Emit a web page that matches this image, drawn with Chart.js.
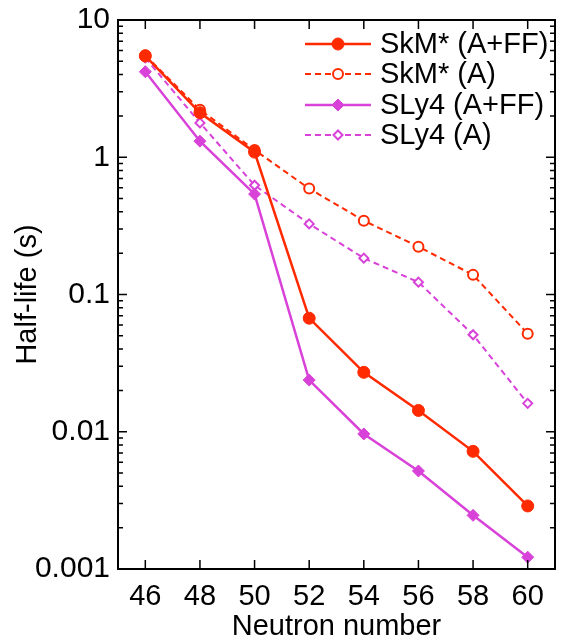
<!DOCTYPE html>
<html>
<head>
<meta charset="utf-8">
<script src="https://cdn.jsdelivr.net/npm/chart.js@4.4.0/dist/chart.umd.min.js"></script>
<style>
  html, body { margin: 0; padding: 0; background: #fff; }
  #wrap { width: 562px; height: 641px; }
</style>
</head>
<body>
<div id="wrap"><canvas id="c"></canvas></div>
<script>
// neutron numbers and half-lives (s)
const neutrons = [46, 48, 50, 52, 54, 56, 58, 60];
const skmFull = [5.47, 2.11, 1.09, 0.0672, 0.0271, 0.0143, 0.0072, 0.00288];
const skmA = [5.53, 2.22, 1.13, 0.591, 0.345, 0.223, 0.139, 0.0518];
const slyFull = [4.2, 1.31, 0.539, 0.0238, 0.00964, 0.00518, 0.00246, 0.00122];
const slyA = [5.3, 1.78, 0.625, 0.327, 0.184, 0.123, 0.0509, 0.0161];

const xTicks = [46, 48, 50, 52, 54, 56, 58, 60];
const yTicks = [0.001, 0.01, 0.1, 1, 10];
const yTickLabels = ['0.001', '0.01', '0.1', '1', '10'];

const RED = '#ff2a00';
const MAG = '#d842d8';
const FONT = "'Liberation Sans', Arial, Helvetica, sans-serif";

function serie(label, values, color, dashed, style, radius, open) {
    return {
        label: label,
        data: neutrons.map((n, i) => ({ x: n, y: values[i] })),
        borderColor: color,
        borderWidth: dashed ? 2 : 2.5,
        borderDash: dashed ? [6, 4] : [],
        pointStyle: style,
        pointRadius: radius,
        pointBorderWidth: open ? 2 : 1,
        pointBorderColor: color,
        pointBackgroundColor: open ? '#fff' : color,
        fill: false,
        tension: 0
    };
}

// marco con marcas hacia dentro + leyenda dentro del area
const framePlugin = {
    id: 'frame',
    afterDraw(chart) {
        const ctx = chart.ctx;
        const a = chart.chartArea;
        const xs = chart.scales.x, ys = chart.scales.y;
        ctx.save();
        ctx.strokeStyle = '#000';
        ctx.lineWidth = 2;
        ctx.strokeRect(a.left, a.top, a.right - a.left, a.bottom - a.top);

        ctx.lineWidth = 1.5;
        ctx.beginPath();
        xTicks.forEach(v => {
            const px = xs.getPixelForValue(v);
            ctx.moveTo(px, a.bottom); ctx.lineTo(px, a.bottom - 9);
            ctx.moveTo(px, a.top); ctx.lineTo(px, a.top + 9);
        });
        yTicks.forEach((d, i) => {
            const py = ys.getPixelForValue(d);
            ctx.moveTo(a.left, py); ctx.lineTo(a.left + 9, py);
            ctx.moveTo(a.right, py); ctx.lineTo(a.right - 9, py);
            if (i < yTicks.length - 1) {
                for (let m = 2; m <= 9; m++) {
                    const pm = ys.getPixelForValue(d * m);
                    ctx.moveTo(a.left, pm); ctx.lineTo(a.left + 5, pm);
                    ctx.moveTo(a.right, pm); ctx.lineTo(a.right - 5, pm);
                }
            }
        });
        ctx.stroke();

        // leyenda
        const rows = [44, 74, 105, 135];
        chart.data.datasets.forEach((ds, i) => {
            const y = rows[i];
            ctx.strokeStyle = ds.borderColor;
            ctx.lineWidth = ds.borderWidth;
            ctx.setLineDash(ds.borderDash);
            ctx.beginPath();
            ctx.moveTo(305, y); ctx.lineTo(371, y);
            ctx.stroke();
            ctx.setLineDash([]);
            ctx.fillStyle = ds.pointBackgroundColor;
            ctx.strokeStyle = ds.pointBorderColor;
            ctx.lineWidth = ds.pointBorderWidth;
            Chart.helpers.drawPoint(ctx, {
                pointStyle: ds.pointStyle,
                radius: ds.pointRadius,
                borderWidth: ds.pointBorderWidth,
                rotation: 0
            }, 338, y);
            ctx.fillStyle = '#000';
            ctx.font = '29px ' + FONT;
            ctx.textBaseline = 'middle';
            ctx.textAlign = 'left';
            ctx.fillText(ds.label, 380, y + 1);
        });
        ctx.restore();
    }
};

const chart = new Chart(document.getElementById('c'), {
    type: 'line',
    data: {
        datasets: [
            serie('SkM* (A+FF)', skmFull, RED, false, 'circle', 6, false),
            serie('SkM* (A)', skmA, RED, true, 'circle', 5, true),
            serie('SLy4 (A+FF)', slyFull, MAG, false, 'rectRot', 6, false),
            serie('SLy4 (A)', slyA, MAG, true, 'rectRot', 4.5, true)
        ]
    },
    options: {
        responsive: true,
        maintainAspectRatio: false,
        animation: false,
        layout: { padding: { top: 20, right: 5, left: 0, bottom: 0 } },
        plugins: {
            legend: { display: false },
            tooltip: { enabled: false }
        },
        scales: {
            x: {
                type: 'linear',
                min: 45,
                max: 61,
                afterBuildTicks: s => { s.ticks = xTicks.map(v => ({ value: v })); },
                afterFit: s => { s.height = 72; s.paddingLeft = 0; s.paddingRight = 0; },
                grid: { display: false, drawTicks: false },
                border: { display: false },
                ticks: { color: '#000', font: { family: FONT, size: 29, lineHeight: 1 }, padding: 13, maxRotation: 0 },
                title: { display: true, text: 'Neutron number', color: '#000', font: { family: FONT, size: 29, lineHeight: 1 }, padding: 0 }
            },
            y: {
                type: 'logarithmic',
                min: 0.001,
                max: 10,
                afterBuildTicks: s => { s.ticks = yTicks.map(v => ({ value: v })); },
                afterFit: s => { s.width = 118; s.paddingTop = 0; s.paddingBottom = 0; },
                grid: { display: false, drawTicks: false },
                border: { display: false },
                ticks: {
                    color: '#000',
                    font: { family: FONT, size: 30 },
                    padding: 8,
                    callback: (v, i) => yTickLabels[i]
                },
                title: { display: true, text: 'Half-life (s)', color: '#000', font: { family: FONT, size: 29, lineHeight: 1 }, padding: 13 }
            }
        }
    },
    plugins: [framePlugin]
});
</script>
</body>
</html>
